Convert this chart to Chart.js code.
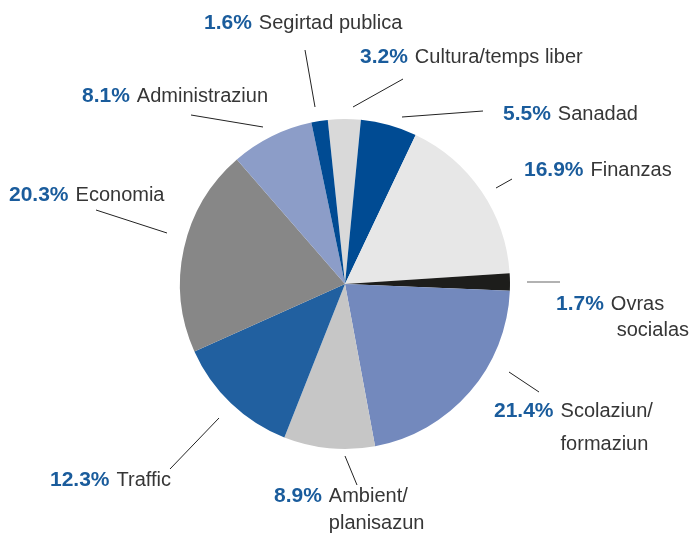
<!DOCTYPE html>
<html>
<head>
<meta charset="utf-8">
<script src="https://cdn.jsdelivr.net/npm/chart.js@4.4.0/dist/chart.umd.min.js"></script>
<style>
  html, body { margin: 0; padding: 0; background: #fff; }
  #wrap { width: 690px; height: 533px; position: relative; }
</style>
</head>
<body>
<div id="wrap"><canvas id="pie"></canvas></div>
<script>
// Data, clockwise from the top
const categories = ['Cultura/temps liber', 'Sanadad', 'Finanzas', 'Ovras socialas', 'Scolaziun/ formaziun',
    'Ambient/ planisazun', 'Traffic', 'Economia', 'Administraziun', 'Segirtad publica'];
const shares = [3.2, 5.5, 16.9, 1.7, 21.4, 8.9, 12.3, 20.3, 8.1, 1.6];
const sliceColors = ['#d9d9d9', '#004b93', '#e7e7e7', '#1d1d1b', '#7389bd',
    '#c6c6c6', '#2160a0', '#878787', '#8c9dc8', '#004b93'];

// Label layout: text anchor, leader line (from, to), optional second line
const labelLayout = [
    { x: 360, y: 57, line: [403, 79, 353, 107] },
    { x: 503, y: 114, line: [483, 111, 402, 117] },
    { x: 524, y: 170, line: [512, 179, 496, 188] },
    { x: 556, y: 304, line: [527, 282, 560, 282], lineColor: '#999', lines: ['Ovras', 'socialas'], dy: 26, align2: 'right' },
    { x: 494, y: 411, line: [509, 372, 539, 392], lines: ['Scolaziun/', 'formaziun'], dy: 33 },
    { x: 274, y: 496, line: [357, 485, 345, 456], lines: ['Ambient/', 'planisazun'], dy: 27 },
    { x: 50, y: 480, line: [170, 469, 219, 418] },
    { x: 9, y: 195, line: [96, 210, 167, 233] },
    { x: 82, y: 96, line: [191, 115, 263, 127] },
    { x: 204, y: 23, line: [305, 50, 315, 107] }
];

const labelPlugin = {
    id: 'pieLabels',
    afterDraw(chart) {
        const ctx = chart.ctx;
        const values = chart.data.datasets[0].data;
        ctx.save();
        ctx.textBaseline = 'middle';
        chart.data.labels.forEach((name, i) => {
            const lay = labelLayout[i];
            const l = lay.line;
            ctx.strokeStyle = lay.lineColor || '#222';
            ctx.lineWidth = lay.lineColor ? 1.6 : 1;
            ctx.beginPath();
            ctx.moveTo(l[0], l[1]);
            ctx.lineTo(l[2], l[3]);
            ctx.stroke();

            const pct = values[i].toFixed(1) + '%';
            const parts = lay.lines || [name];
            ctx.font = 'bold 21px "Liberation Sans", Arial, sans-serif';
            ctx.fillStyle = '#1a5c9c';
            ctx.textAlign = 'left';
            ctx.fillText(pct, lay.x, lay.y);
            const w = ctx.measureText(pct).width + 7;
            ctx.font = '20px "Liberation Sans", Arial, sans-serif';
            ctx.fillStyle = '#363636';
            ctx.fillText(parts[0], lay.x + w, lay.y);
            if (parts[1]) {
                if (lay.align2 === 'right') {
                    ctx.textAlign = 'right';
                    ctx.fillText(parts[1], 689, lay.y + lay.dy);
                } else {
                    ctx.fillText(parts[1], lay.x + w, lay.y + lay.dy);
                }
            }
        });
        ctx.restore();
    }
};

new Chart(document.getElementById('pie'), {
    type: 'pie',
    data: {
        labels: categories,
        datasets: [{
            data: shares,
            backgroundColor: sliceColors,
            borderWidth: 0
        }]
    },
    options: {
        responsive: true,
        maintainAspectRatio: false,
        animation: false,
        rotation: -6,
        layout: { padding: { left: 180, right: 180, top: 119, bottom: 84 } },
        plugins: {
            legend: { display: false },
            tooltip: { enabled: false }
        }
    },
    plugins: [labelPlugin]
});
</script>
</body>
</html>
